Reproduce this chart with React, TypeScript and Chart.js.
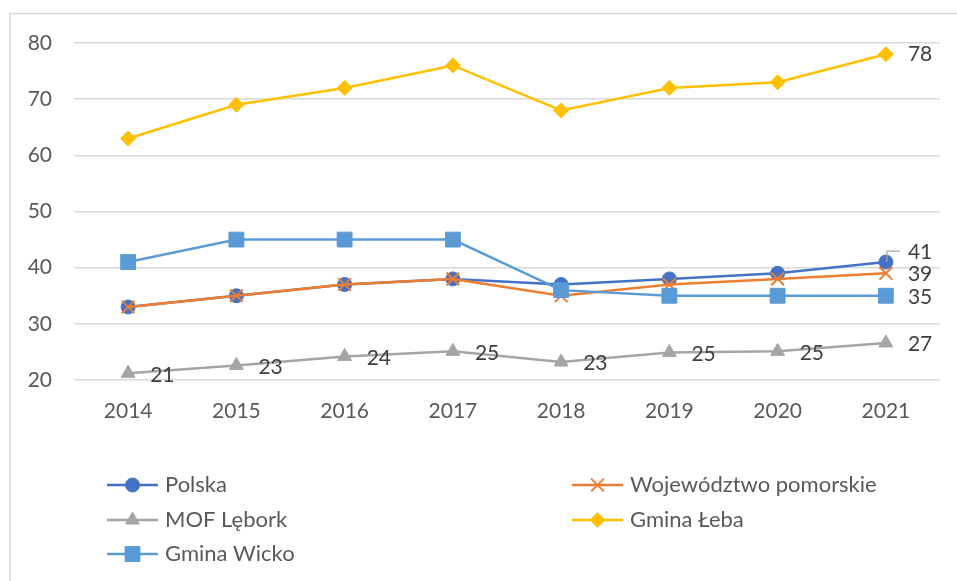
import React, { useEffect, useRef } from "react";
import { Chart, registerables } from "chart.js";
import { drawPoint } from "chart.js/helpers";

Chart.register(...registerables);

const years = ["2014", "2015", "2016", "2017", "2018", "2019", "2020", "2021"];
const polska = [33, 35, 37, 38, 37, 38, 39, 41];
const pomorskie = [33, 35, 37, 38, 35, 37, 38, 39];
const mofLebork = [21.2, 22.6, 24.2, 25.1, 23.2, 24.9, 25.1, 26.6];
const gminaLeba = [63, 69, 72, 76, 68, 72, 73, 78];
const gminaWicko = [41, 45, 45, 45, 36, 35, 35, 35];
const yMin = 20;
const yMax = 80;
const yStep = 10;

const FONT = "Lato";
const TICK_COLOR = "#595959";
const LABEL_COLOR = "#404040";

const seriesNames = ["Polska", "Województwo pomorskie", "MOF Lębork", "Gmina Łeba", "Gmina Wicko"];
const seriesColors = ["#4472C4", "#ED7D31", "#A5A5A5", "#FFC000", "#5B9BD5"];
const seriesStyles = ["circle", "crossRot", "triangle", "rectRot", "rect"];
const seriesRadius = [7, 9, 8, 7.5, 10.5];
const seriesValues = [polska, pomorskie, mofLebork, gminaLeba, gminaWicko];

// which points get value labels: [datasetIndex, pointIndex, dy, leader]
const valueLabels: [number, number, number, boolean][] = [
  [2, 0, 1.5, false], [2, 1, 1.5, false], [2, 2, 1.5, false], [2, 3, 1.5, false],
  [2, 4, 1.5, false], [2, 5, 1.5, false], [2, 6, 1.5, false], [2, 7, 1.5, false],
  [3, 7, 0, false], [0, 7, -10, true], [1, 7, 1, false], [4, 7, 1, false],
];

// legend layout: [x of line start, y]
const legendPos: [number, number][] = [
  [107, 485], [572, 485], [107, 520], [572, 520], [107, 554],
];

const borderPlugin = {
  id: "frame",
  beforeDraw(chart: any) {
    const ctx = chart.ctx;
    ctx.save();
    ctx.strokeStyle = "#d9d9d9";
    ctx.lineWidth = 1.5;
    ctx.beginPath();
    ctx.moveTo(10, chart.height);
    ctx.lineTo(10, 13.5);
    ctx.lineTo(chart.width, 13.5);
    ctx.stroke();
    ctx.restore();
  },
};

const labelPlugin = {
  id: "valueLabels",
  afterDatasetsDraw(chart: any) {
    const ctx = chart.ctx;
    ctx.save();
    ctx.font = `21px ${FONT}`;
    ctx.fillStyle = LABEL_COLOR;
    ctx.textAlign = "left";
    ctx.textBaseline = "middle";
    for (const [ds, idx, dy, leader] of valueLabels) {
      const el = chart.getDatasetMeta(ds).data[idx];
      const v = chart.data.datasets[ds].data[idx];
      if (leader) {
        ctx.strokeStyle = "#a6a6a6";
        ctx.lineWidth = 1.2;
        ctx.beginPath();
        ctx.moveTo(el.x + 1, el.y);
        ctx.lineTo(el.x + 1, el.y + dy - 1);
        ctx.lineTo(el.x + 14, el.y + dy - 1);
        ctx.stroke();
      }
      ctx.fillText(String(Math.round(v)), el.x + 22, el.y + dy);
    }
    ctx.restore();
  },
};

const legendPlugin = {
  id: "customLegend",
  afterDraw(chart: any) {
    const ctx = chart.ctx;
    ctx.save();
    chart.data.datasets.forEach((d: any, i: number) => {
      const [x, y] = legendPos[i];
      ctx.strokeStyle = d.borderColor;
      ctx.lineWidth = 2.5;
      ctx.beginPath();
      ctx.moveTo(x, y);
      ctx.lineTo(x + 51, y);
      ctx.stroke();
      ctx.fillStyle = d.borderColor;
      ctx.strokeStyle = d.borderColor;
      ctx.lineWidth = d.pointBorderWidth;
      drawPoint(ctx, { pointStyle: d.pointStyle, radius: d.pointRadius, rotation: 0, borderWidth: d.pointBorderWidth }, x + 25.5, y);
      ctx.fillStyle = TICK_COLOR;
      ctx.font = `22px ${FONT}`;
      ctx.textAlign = "left";
      ctx.textBaseline = "middle";
      ctx.fillText(d.label, x + 58, y);
    });
    ctx.restore();
  },
};

export default function App() {
  const ref = useRef<HTMLCanvasElement | null>(null);
  useEffect(() => {
    if (!ref.current) return;
    const datasets = seriesNames.map((name, i) => ({
      label: name,
      data: seriesValues[i],
      borderColor: seriesColors[i],
      backgroundColor: seriesColors[i],
      pointBackgroundColor: seriesColors[i],
      pointBorderColor: seriesColors[i],
      pointStyle: seriesStyles[i],
      pointRadius: seriesRadius[i],
      pointBorderWidth: seriesStyles[i] === "crossRot" ? 2 : 1,
      borderWidth: 2.5,
      tension: 0,
      order: seriesNames.length - i,
    }));
    const chart = new Chart(ref.current, {
      type: "line",
      data: { labels: years, datasets },
      options: {
        responsive: false,
        animation: false,
        layout: { padding: { left: 0, right: 17, top: 43, bottom: 0 } },
        plugins: { legend: { display: false }, tooltip: { enabled: false } },
        scales: {
          x: {
            offset: true,
            grid: { display: false, drawTicks: false },
            border: { display: false },
            ticks: { color: TICK_COLOR, font: { family: FONT, size: 21 }, padding: 19 },
            afterFit: (s: any) => { s.height = 201; },
          },
          y: {
            min: yMin,
            max: yMax,
            ticks: { stepSize: yStep, color: TICK_COLOR, font: { family: FONT, size: 21 }, padding: 22 },
            grid: { color: "#d9d9d9", lineWidth: 1.5, drawTicks: false },
            border: { display: false },
            afterFit: (s: any) => { s.width = 74; },
          },
        },
      },
      plugins: [borderPlugin, labelPlugin, legendPlugin],
    } as any);
    return () => chart.destroy();
  }, []);
  return (
    <div style={{ position: "fixed", left: 0, top: 0, width: 957, height: 581, background: "#fff" }}>
      <canvas ref={ref} width={957} height={581} />
    </div>
  );
}
